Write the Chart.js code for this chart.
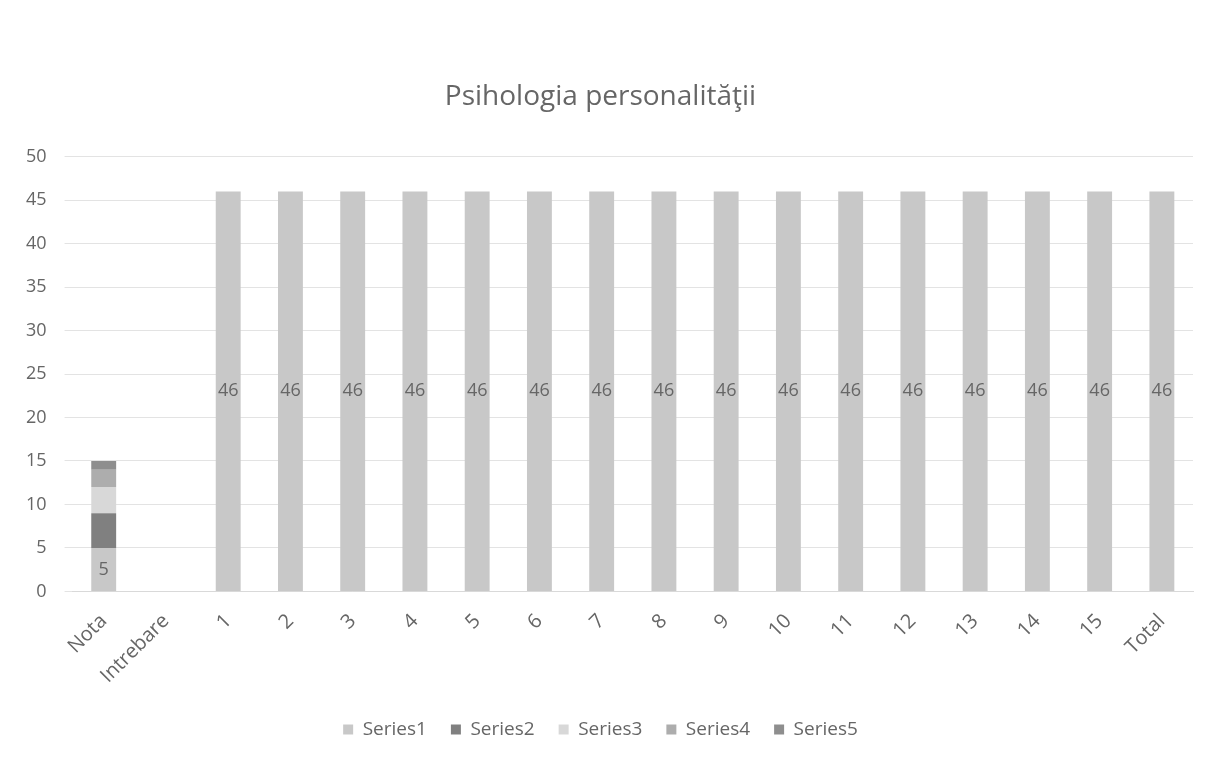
<!DOCTYPE html>
<html>
<head>
<meta charset="utf-8">
<script src="https://cdn.jsdelivr.net/npm/chart.js@4/dist/chart.umd.min.js"></script>
<style>
  html, body { margin: 0; padding: 0; background: #fff; }
  #wrap { width: 1215px; height: 759px; position: relative; }
</style>
</head>
<body>
<div id="wrap"><canvas id="chart"></canvas></div>
<script>
// Chart data
const categories = ['Nota', 'Intrebare', '1', '2', '3', '4', '5', '6', '7', '8', '9', '10', '11', '12', '13', '14', '15', 'Total'];
const series1 = [5, null, 46, 46, 46, 46, 46, 46, 46, 46, 46, 46, 46, 46, 46, 46, 46, 46];
const series2 = [4, null, null, null, null, null, null, null, null, null, null, null, null, null, null, null, null, null];
const series3 = [3, null, null, null, null, null, null, null, null, null, null, null, null, null, null, null, null, null];
const series4 = [2, null, null, null, null, null, null, null, null, null, null, null, null, null, null, null, null, null];
const series5 = [1, null, null, null, null, null, null, null, null, null, null, null, null, null, null, null, null, null];
const yTicks = [0, 5, 10, 15, 20, 25, 30, 35, 40, 45, 50];

const FONT = '"Open Sans", Lato, sans-serif';
const TEXT = '#666666';

// draws the value labels of Series1 in the middle of each bar
const barLabels = {
  id: 'barLabels',
  afterDatasetsDraw(chart) {
    const ctx = chart.ctx;
    const meta = chart.getDatasetMeta(0);
    ctx.save();
    ctx.font = '18px ' + FONT;
    ctx.fillStyle = '#666666';
    ctx.textAlign = 'center';
    ctx.textBaseline = 'middle';
    meta.data.forEach((bar, i) => {
      const v = series1[i];
      if (v == null) return;
      ctx.fillText(String(v), bar.x, (bar.y + bar.base) / 2);
    });
    ctx.restore();
  }
};

function makeSet(label, data, color) {
  return {
    label: label,
    data: data,
    backgroundColor: color,
    borderWidth: 0,
    barPercentage: 0.4,
    categoryPercentage: 1
  };
}

new Chart(document.getElementById('chart'), {
  type: 'bar',
  data: {
    labels: categories,
    datasets: [
      makeSet('Series1', series1, '#c8c8c8'),
      makeSet('Series2', series2, '#808080'),
      makeSet('Series3', series3, '#d8d8d8'),
      makeSet('Series4', series4, '#adadad'),
      makeSet('Series5', series5, '#8e8e8e')
    ]
  },
  options: {
    responsive: true,
    maintainAspectRatio: false,
    animation: false,
    layout: { padding: { left: 8, right: 22, top: 10, bottom: 10 } },
    plugins: {
      title: {
        display: true,
        text: 'Psihologia personalităţii',
        color: TEXT,
        font: { family: FONT, size: 28, weight: 'normal' },
        padding: { top: 70, bottom: 43 }
      },
      legend: {
        position: 'bottom',
        labels: {
          color: TEXT,
          font: { family: FONT, size: 19 },
          boxWidth: 10,
          boxHeight: 10,
          padding: 24
        }
      },
      tooltip: { enabled: false }
    },
    scales: {
      x: {
        stacked: true,
        grid: { display: false },
        border: { color: '#d9d9d9' },
        afterFit(axis) { axis.height -= 2; },
        ticks: {
          color: TEXT,
          font: { family: FONT, size: 20 },
          minRotation: 45,
          maxRotation: 45,
          autoSkip: false,
          padding: 10
        }
      },
      y: {
        stacked: true,
        min: 0,
        max: 50,
        afterBuildTicks(axis) { axis.ticks = yTicks.map(v => ({ value: v })); },
        grid: { color: '#e3e3e3' },
        border: { display: false },
        ticks: {
          color: TEXT,
          font: { family: FONT, size: 18 },
          padding: 18
        }
      }
    }
  },
  plugins: [barLabels]
});
</script>
</body>
</html>
